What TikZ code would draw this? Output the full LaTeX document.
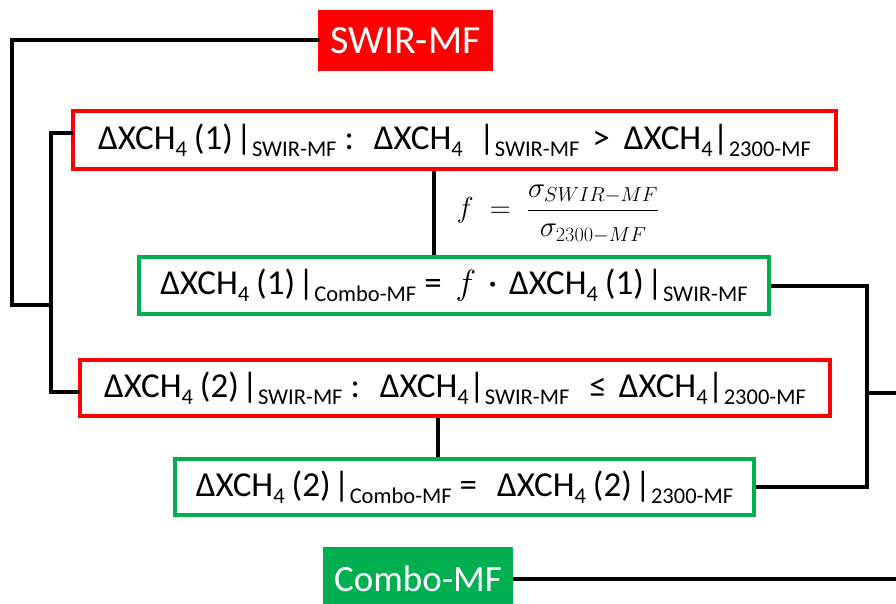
\RequirePackage{fix-cm}
\documentclass[tikz,border=0pt]{standalone}
\usepackage{fontspec}
\setmainfont{Carlito}
\definecolor{bred}{HTML}{FF0000}
\definecolor{bgreen}{HTML}{00B050}
\newcommand\lsub[1]{\raisebox{-7pt}{\fontsize{22.5}{23}\selectfont #1}}
\newcommand\dxch{ΔXCH\lsub{4}}
\newcommand\hs[1]{\hspace{#1pt}}
\begin{document}
\begin{tikzpicture}[x=1pt,y=-1pt,
  conn/.style={line width=4pt,line cap=rect,line join=miter},
  redbox/.style={draw=bred,line width=4pt,fill=white,inner sep=0pt,font=\fontsize{35}{40}\selectfont},
  greenbox/.style={draw=bgreen,line width=4pt,fill=white,inner sep=0pt,font=\fontsize{35}{40}\selectfont},
  tag/.style={inner sep=0pt,text=white,font=\fontsize{40}{44}\selectfont}]
\useasboundingbox (0,0) rectangle (896,604);
\clip (0,0) rectangle (896,604);
% boxes
\node[tag,fill=bred,minimum width=175pt,minimum height=61pt] (swir) at (405.5,40.5) {SWIR-MF};
\node[tag,fill=bgreen,minimum width=190pt,minimum height=64pt,font=\fontsize{37}{40}\selectfont] (combo) at (418,579) {Combo-MF};
\node[redbox,minimum width=763pt,minimum height=58pt] (b1) at (454.5,140)
  {\dxch\hs{7}(1)\hs{3}|\lsub{SWIR-MF}\hs{8}:\hs{20}\dxch\hs{16}|\lsub{SWIR-MF}\hs{13}>\hs{14}\dxch|\lsub{2300-MF}};
\node[greenbox,minimum width=630pt,minimum height=57pt] (b2) at (454,285.5)
  {\dxch\hs{7}(1)\hs{3}|\lsub{Combo-MF}\hs{8}=\hs{14}$f$\hs{12}·\hs{12}\dxch\hs{7}(1)\hs{3}|\lsub{SWIR-MF}};
\node[redbox,minimum width=750pt,minimum height=56pt] (b3) at (455,388)
  {\dxch\hs{7}(2)\hs{3}|\lsub{SWIR-MF}\hs{8}:\hs{20}\dxch|\lsub{SWIR-MF}\hs{20}≤\hs{12}\dxch|\lsub{2300-MF}};
\node[greenbox,minimum width=579pt,minimum height=56pt] (b4) at (464.5,487)
  {\dxch\hs{7}(2)\hs{3}|\lsub{Combo-MF}\hs{8}=\hs{20}\dxch\hs{7}(2)\hs{3}|\lsub{2300-MF}};
\node[inner sep=0pt,font=\fontsize{29}{32}\selectfont] (frm) at (558,214)
  {$\displaystyle f\;=\;\frac{\sigma_{SWIR-MF}}{\sigma_{2300-MF}}$};
% left connectors
\coordinate (lt) at (12,40);
\coordinate (lb) at (12,305);
\coordinate (mt) at (51,133);
\coordinate (mm) at (51,305);
\coordinate (mb) at (51,392);
\draw[conn] (swir.west |- lt) -- (lt) -- (lb) -- (mm);
\draw[conn] (b1.west |- mt) -- (mt) -- (mb) -- (b3.west |- mb);
% vertical links
\draw[conn,line cap=butt] (434,0 |- b1.south) -- (434,0 |- b2.north);
\draw[conn,line cap=butt] (438,0 |- b3.south) -- (438,0 |- b4.north);
% right connectors
\coordinate (rt) at (867,286);
\coordinate (rm) at (867,393);
\coordinate (rb) at (867,487);
\coordinate (re) at (900,393);
\draw[conn,line cap=butt] (b2.east |- rt) -- (rt) -- (rb) -- (b4.east |- rb);
\draw[conn,line cap=butt] (rm) -- (re);
\coordinate (ce) at (900,579);
\draw[conn,line cap=butt] (combo.east) -- (ce);
\end{tikzpicture}
\end{document}
